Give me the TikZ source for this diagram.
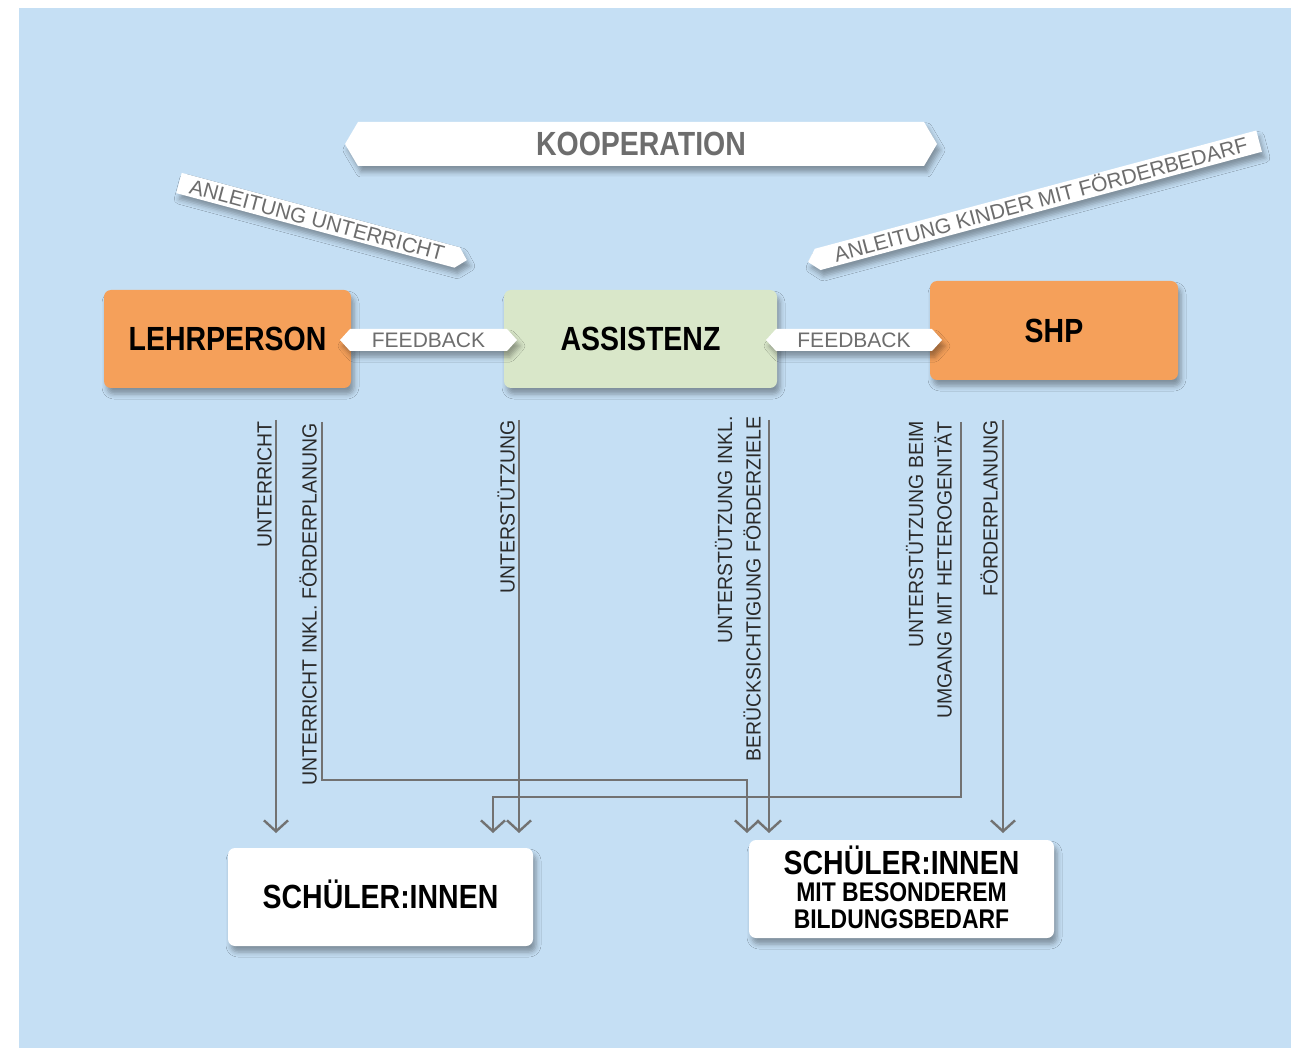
\documentclass[tikz,border=0pt]{standalone}
\usepackage{fontspec}
\setmainfont{Liberation Sans}
\newfontfamily\condfont{Liberation Sans}[FakeStretch=0.85]
\newfontfamily\narrowfont{Liberation Sans}[FakeStretch=0.95]
\usetikzlibrary{arrows.meta,shadows.blur,calc}
\definecolor{bg}{HTML}{C5DFF4}
\definecolor{orangebox}{HTML}{F5A05A}
\definecolor{greenbox}{HTML}{D9E7C9}
\definecolor{linegray}{HTML}{727272}
\definecolor{textgray}{HTML}{6D6D6D}
\definecolor{labeltext}{HTML}{2A2A2A}
\tikzset{
  soft/.style={blur shadow={shadow xshift=3pt, shadow yshift=-6pt, shadow blur radius=5pt, shadow opacity=35}},
  bigbold/.style={font=\condfont\bfseries\fontsize{33.5}{36}\selectfont},
  smallbold/.style={font=\condfont\bfseries\fontsize{27}{29}\selectfont},
  box/.style={rounded corners=7pt, inner sep=0pt, bigbold, text=black, text height=23.8pt, text depth=0pt, soft},
  ribtext/.style={font=\fontsize{21}{24}\selectfont, text=textgray, inner sep=0pt},
  vlabel/.style={font=\narrowfont\fontsize{20.5}{28.5}\selectfont, text=labeltext, inner sep=0pt, rotate=90, anchor=south east, align=right},
  arr/.style={draw=linegray, line width=2.4pt, -{Straight Barb[length=11pt,width=24pt]}},
}
\begin{document}
\begin{tikzpicture}[x=1pt,y=-1pt]
\useasboundingbox (0,0) rectangle (1291,1048);
\fill[white] (0,0) rectangle (1291,1048);
\fill[bg] (19,8) rectangle (1291,1048);

% KOOPERATION banner
\path[fill=white, soft] (345,144) -- (358,122) -- (924,122) -- (937,144) -- (924,166) -- (358,166) -- cycle;
\node[bigbold, text=textgray, text height=23.8pt, text depth=0pt, inner sep=0pt] (koop) at (641,144) {KOOPERATION};

% left diagonal ribbon
\begin{scope}[shift={(179,183)}, rotate=-15]
\path[fill=white, soft] (0,-10.5) -- (288,-10.5) -- (298,0) -- (288,10.5) -- (0,10.5) -- cycle;
\node[ribtext, rotate=-15, anchor=base] (anlu) at (143,7.5) {ANLEITUNG UNTERRICHT};
\end{scope}

% right diagonal ribbon
\begin{scope}[shift={(808,262)}, rotate=15]
\path[fill=white, soft] (0,0) -- (10,-11) -- (467,-11) -- (467,11) -- (10,11) -- cycle;
\node[ribtext, rotate=15, anchor=base] (anlk) at (241,7.5) {ANLEITUNG KINDER MIT FÖRDERBEDARF};
\end{scope}

% boxes
\node[box, fill=orangebox, minimum width=247pt, minimum height=98pt] (lp) at (227.5,339) {LEHRPERSON};
\node[box, fill=greenbox, minimum width=273pt, minimum height=98pt] (as) at (640.5,339) {ASSISTENZ};
\node[box, fill=orangebox, minimum width=248pt, minimum height=99pt] (shp) at (1054,330.5) {SHP};
\node[box, fill=white, minimum width=305pt, minimum height=98pt] (sl) at (380.5,897) {SCHÜLER:INNEN};
\node[box, fill=white, minimum width=305pt, minimum height=98pt] (sr) at (901.5,889) {};
\node[bigbold, inner sep=0pt, anchor=base] (sr1) at (901.5,874) {SCHÜLER:INNEN};
\node[smallbold, inner sep=0pt, anchor=base] (sr2) at (901.5,901) {MIT BESONDEREM};
\node[smallbold, inner sep=0pt, anchor=base] (sr3) at (901.5,928) {BILDUNGSBEDARF};

% feedback ribbons
\path[fill=white, soft] (340,340) -- (350,329) -- (507,329) -- (517,340) -- (507,351) -- (350,351) -- cycle;
\node[ribtext, text height=15pt, text depth=0pt] (fb1) at (428.5,340) {FEEDBACK};
\path[fill=white, soft] (766,340) -- (776,329) -- (932,329) -- (942,340) -- (932,351) -- (776,351) -- cycle;
\node[ribtext, text height=15pt, text depth=0pt] (fb2) at (854,340) {FEEDBACK};

% connector coordinates
\coordinate (s1) at (276,420);  \coordinate (e1) at (276,833);
\coordinate (s2) at (322,422);  \coordinate (e2) at (747,833);
\coordinate (s3) at (519,420);  \coordinate (e3) at (519,833);
\coordinate (s4) at (769,420);  \coordinate (e4) at (769,833);
\coordinate (s5) at (961,422);  \coordinate (e5) at (493,833);
\coordinate (s6) at (1003,420); \coordinate (e6) at (1003,833);

\draw[arr] (s1) -- (e1);
\draw[arr] (s2) -- (322,780) -- (747,780) -- (e2);
\draw[arr] (s3) -- (e3);
\draw[arr] (s4) -- (e4);
\draw[arr] (s5) -- (961,797) -- (493,797) -- (e5);
\draw[arr] (s6) -- (e6);

% vertical labels
\node[vlabel] (l1) at (272,421) {UNTERRICHT};
\node[vlabel] (l2) at (317,423) {UNTERRICHT INKL. FÖRDERPLANUNG};
\node[vlabel] (l3) at (515,420) {UNTERSTÜTZUNG};
\node[vlabel] (l4) at (761,416) {UNTERSTÜTZUNG INKL.\\BERÜCKSICHTIGUNG FÖRDERZIELE};
\node[vlabel] (l5) at (952,421) {UNTERSTÜTZUNG BEIM\\UMGANG MIT HETEROGENITÄT};
\node[vlabel] (l6) at (998,420) {FÖRDERPLANUNG};
\end{tikzpicture}
\end{document}
